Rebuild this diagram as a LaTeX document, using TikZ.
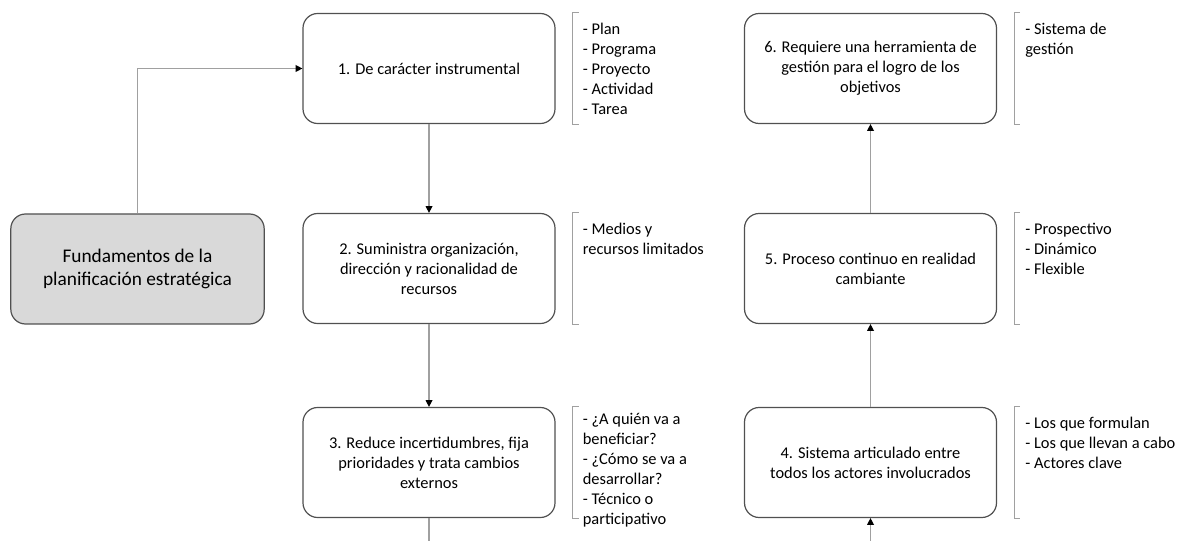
\documentclass[tikz,border=0pt]{standalone}
\usepackage{fontspec}
\setmainfont{Carlito}
\usetikzlibrary{arrows.meta}
\definecolor{mygray}{RGB}{217,217,217}
\definecolor{myline}{RGB}{160,160,160}
\definecolor{myborder}{RGB}{80,80,80}

\tikzset{
  paso/.style={draw=myborder, line width=0.9pt, rounded corners=11pt, minimum width=189pt,
    minimum height=82.5pt, align=center, inner sep=0pt, font=\fontsize{12.3}{15}\selectfont},
  lista/.style={anchor=north west, align=left, inner sep=0pt, font=\fontsize{12.3}{15}\selectfont},
  flecha/.style={draw=myline, line width=0.9pt, -{Triangle[length=5pt,width=5pt,color=black]}},
  linea/.style={draw=myline, line width=0.9pt},
  corchete/.style={draw=myline, line width=0.7pt},
}

\begin{document}
\begin{tikzpicture}[x=0.75pt, y=-0.75pt]
    \useasboundingbox (0,0) rectangle (1181,541);
    % Fundamentos
    \node[paso, fill=mygray, minimum width=190pt, font=\fontsize{14.5}{17.4}\selectfont] (fund) at (137.5,269)
        {Fundamentos de la\\planificación estratégica};

    % Columna izquierda
    \node[paso] (p1) at (429,68.5) {1. De carácter instrumental};
    \node[paso] (p2) at (429,268.5) {2. Suministra organización,\\dirección y racionalidad de\\recursos};
    \node[paso] (p3) at (429,462.5) {3. Reduce incertidumbres, fija\\prioridades y trata cambios\\externos};

    % Columna derecha
    \node[paso] (p6) at (870.5,68.5) {6. Requiere una herramienta de\\gestión para el logro de los\\objetivos};
    \node[paso] (p5) at (870.5,268.5) {5. Proceso continuo en realidad\\cambiante};
    \node[paso] (p4) at (870.5,462.5) {4. Sistema articulado entre\\todos los actores involucrados};

    % Listas
    \node[lista] (l1) at ([shift={(27,10)}]p1.north east) {- Plan\\- Programa\\- Proyecto\\- Actividad\\- Tarea};
    \node[lista] (l2) at ([shift={(27,10)}]p2.north east) {- Medios y\\recursos limitados};
    \node[lista] (l3) at ([shift={(27,6)}]p3.north east) {- ¿A quién va a\\beneficiar?\\- ¿Cómo se va a\\desarrollar?\\- Técnico o\\participativo};
    \node[lista] (l6) at ([shift={(28,10)}]p6.north east) {- Sistema de\\gestión};
    \node[lista] (l5) at ([shift={(28,10)}]p5.north east) {- Prospectivo\\- Dinámico\\- Flexible};
    \node[lista] (l4) at ([shift={(28,10)}]p4.north east) {- Los que formulan\\- Los que llevan a cabo\\- Actores clave};

    % Corchetes
    \foreach \n in {p1,p2,p3,p4,p5,p6}
        \draw[corchete] ([shift={(23,0)}]\n.north east) -- ++(-6,0)
            |- ([shift={(23,0)}]\n.south east);

    % Conectores
    \coordinate (fin3) at (429,541);
    \coordinate (ini4) at (870.5,541);
    \draw[flecha] (fund.north) |- (p1.west);
    \draw[flecha] (p1) -- (p2);
    \draw[flecha] (p2) -- (p3);
    \draw[linea] (p3) -- (fin3);
    \draw[flecha] (ini4) -- (p4);
    \draw[flecha] (p4) -- (p5);
    \draw[flecha] (p5) -- (p6);
\end{tikzpicture}
\end{document}
